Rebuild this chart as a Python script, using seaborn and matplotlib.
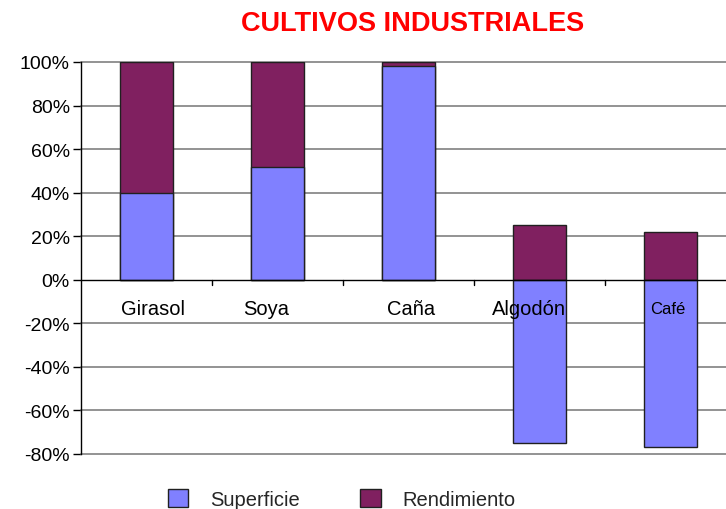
import numpy as np
import pandas as pd
import matplotlib
matplotlib.use("Agg")
import matplotlib.pyplot as plt
import seaborn as sns
from matplotlib.patches import Patch

# datos (%)
cultivos = ["Girasol", "Soya", "Caña", "Algodón", "Café"]
superficie = [40, 52, 98, -75, -77]
rendimiento = [60, 48, 2, 25, 22]
y_ticks = [-80, -60, -40, -20, 0, 20, 40, 60, 80, 100]

azul = "#8080FF"
morado = "#802060"

sns.set_theme(style="white")
plt.rcParams["font.family"] = ["Liberation Sans", "DejaVu Sans"]

df = pd.DataFrame({"cultivo": cultivos, "sup": superficie, "rend": rendimiento})
# apilado: rendimiento arriba de la parte positiva de superficie
df["tope"] = df["sup"].clip(lower=0) + df["rend"]

fig = plt.figure(figsize=(7.26, 5.10), dpi=100)
ax = fig.add_axes([81 / 726, 55 / 510, 655 / 726, 392 / 510])

sns.barplot(data=df, x="cultivo", y="tope", color=morado, saturation=1,
            width=0.4, edgecolor="#202020", linewidth=1, ax=ax, zorder=3)
sns.barplot(data=df, x="cultivo", y="sup", color=azul, saturation=1,
            width=0.4, edgecolor="#202020", linewidth=1, ax=ax, zorder=3)

ax.set_xlim(-0.5, 4.5)
ax.set_ylim(-80, 100)
ax.set_yticks(y_ticks)
ax.set_yticklabels([f"{v}%" for v in y_ticks], fontsize=14, color="black")
ax.set_xlabel("")
ax.set_ylabel("")

# lineas de division
for v in y_ticks:
    if v != 0:
        ax.axhline(v, color="#808080", linewidth=1.2, zorder=1, clip_on=False)
ax.axhline(0, color="black", linewidth=1, zorder=4)

for s in ["top", "right", "bottom"]:
    ax.spines[s].set_visible(False)
ax.spines["left"].set_color("black")
ax.spines["left"].set_linewidth(1)
ax.spines["left"].set_zorder(5)

ax.tick_params(axis="y", which="major", direction="out", length=6,
               width=1, color="black", pad=2, left=True)

# marcas del eje de categorias sobre la linea del 0
ax.set_xticks([])
for b in [0.5, 1.5, 2.5, 3.5]:
    ax.plot([b, b], [0, -2.5], color="black", linewidth=1, zorder=4)

# etiquetas un poco corridas, como en el original
desplaz = [0.05, -0.09, 0.02, -0.08, -0.02]
for i, c in enumerate(cultivos):
    ax.text(i + desplaz[i], -13, c, ha="center", va="center",
            fontsize=12 if c == "Café" else 14.5, color="black", zorder=6)

fig.text(413 / 726, 1 - 24 / 510, "CULTIVOS INDUSTRIALES", ha="center",
         va="center", color="#FF0000", fontsize=19.5, fontweight="bold")

handles = [Patch(facecolor=azul, edgecolor="#202020", label="Superficie"),
           Patch(facecolor=morado, edgecolor="#202020", label="Rendimiento")]
fig.legend(handles=handles, loc="lower center", ncol=2, frameon=False,
           bbox_to_anchor=(0.471, -0.036), fontsize=14.5, handlelength=1.0,
           handleheight=1.0, handletextpad=1.1, columnspacing=3.0)

fig.savefig("out.png", dpi=100)
